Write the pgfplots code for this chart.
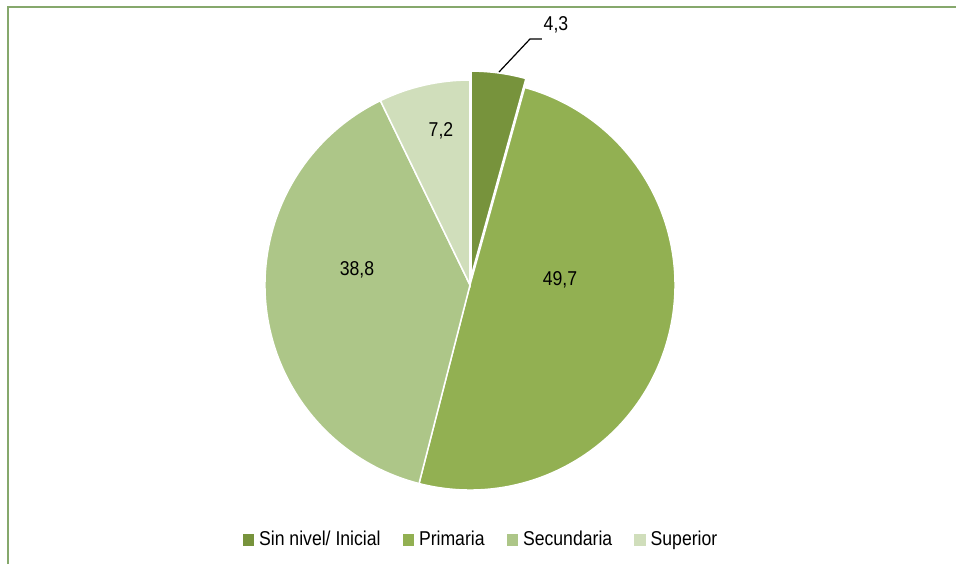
\documentclass[border=0pt]{standalone}
\usepackage{pgfplots}
\usepackage{pgfplotstable}
\pgfplotsset{compat=1.18}
\usepackage{fontspec}
\setmainfont{Liberation Sans}[FakeStretch=0.88]

\definecolor{c1}{HTML}{77933C}
\definecolor{c2}{HTML}{92B052}
\definecolor{c3}{HTML}{ADC688}
\definecolor{c4}{HTML}{D0DEBB}
\definecolor{frame}{HTML}{86A86C}

% share of each level, clockwise from 12 o'clock
\pgfplotstableread{
value off
4.3  0.09
49.7 0
38.8 0
7.2  0
}\pietable

\begin{document}
\fontsize{5.7}{6.8}\selectfont
\begin{tikzpicture}
\begin{axis}[
    scale only axis,
    width=9.56cm, height=5.64cm,
    xmin=0, xmax=956, ymin=-564, ymax=0,
    hide axis,
    legend columns=4,
    legend style={
        at={(axis cs:481,-540)}, anchor=center,
        draw=none, fill=none, inner sep=0pt,
        font=\fontsize{5.7}{6.8}\selectfont,
        nodes={inner sep=0.02cm},
        /tikz/every odd column/.append style={column sep=0.03cm},
        /tikz/every even column/.append style={column sep=0.2cm},
    },
]
\path (axis cs:0,0) rectangle (axis cs:956,-564);

% frame
\draw[frame, line width=0.02cm] (axis cs:7.8,-564) -- (axis cs:7.8,-6.5) -- (axis cs:956,-6.5);

\pgfplotsextra{
  \gdef\startang{90}
  \foreach \i/\c in {0/c1,1/c2,2/c3,3/c4}{
    \pgfplotstablegetelem{\i}{value}\of\pietable
    \pgfmathsetmacro{\endang}{\startang-3.6*\pgfplotsretval}
    \pgfmathsetmacro{\midang}{(\startang+\endang)/2}
    \pgfplotstablegetelem{\i}{off}\of\pietable
    \edef\off{\pgfplotsretval}
    \fill[\c, draw=white, line width=0.015cm, shift={(\midang:\off cm)}]
      (axis cs:470,-285) -- ++(\startang:2.05cm)
      arc[start angle=\startang, end angle=\endang, radius=2.05cm] -- cycle;
    \xdef\startang{\endang}
  }
}

% leader line and value labels
\draw[black, line width=0.012cm] (axis cs:499,-72) -- (axis cs:530,-39) -- (axis cs:542,-39);
\node at (axis cs:556,-25) {4,3};
\node at (axis cs:441,-131) {7,2};
\node at (axis cs:357,-270) {38,8};
\node at (axis cs:560,-280) {49,7};

\addlegendimage{legend image code/.code={\fill[c1] (0cm,-0.05cm) rectangle (0.1cm,0.05cm);}}
\addlegendentry{Sin nivel/ Inicial}
\addlegendimage{legend image code/.code={\fill[c2] (0cm,-0.05cm) rectangle (0.1cm,0.05cm);}}
\addlegendentry{Primaria}
\addlegendimage{legend image code/.code={\fill[c3] (0cm,-0.05cm) rectangle (0.1cm,0.05cm);}}
\addlegendentry{Secundaria}
\addlegendimage{legend image code/.code={\fill[c4] (0cm,-0.05cm) rectangle (0.1cm,0.05cm);}}
\addlegendentry{Superior}
\end{axis}
\end{tikzpicture}
\end{document}
